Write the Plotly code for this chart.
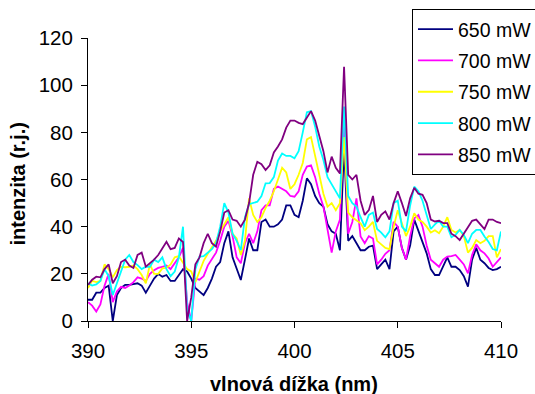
import numpy as np
import plotly.graph_objects as go

# wavelength grid (nm)
wavelength = [round(390.0 + 0.2 * i, 1) for i in range(101)]

p650 = [9, 9, 12, 12, 14, 15, 0, 11, 14, 15.3,
        15.3, 15.5, 16, 15, 12, 15, 18, 20, 18.8, 19.5,
        17, 17, 19.5, 22, 21, 18, 14, 12.5, 11, 14,
        18, 23, 25, 33, 38, 27, 22, 17.4, 26, 35,
        30, 30, 42, 43, 40, 40, 41, 43, 49, 49,
        45, 44, 51, 60.5, 58, 53, 50, 48.5, 41, 38,
        37, 30, 74, 34, 36, 33, 30, 30, 31.5, 32,
        22, 24, 26, 22, 38, 40, 31, 26, 32, 43,
        38, 33, 28.7, 22, 19.5, 19.5, 23, 27, 23, 23,
        21.6, 19, 14.6, 26, 31, 26, 24.5, 22.5, 21.6, 22,
        23]

p700 = [8, 6.5, 4, 7, 15, 20, 8, 12.5, 14.5, 14,
        15, 16.5, 18.5, 18, 17, 20, 21.5, 22.5, 23, 23.5,
        22, 24.5, 27, 31, 8, 0, 18, 17.5, 19, 23.5,
        26, 29, 34, 40, 42.5, 36, 27, 24.5, 33, 37,
        33, 38, 47, 49, 49, 56, 57, 56, 55, 53,
        52.7, 55, 62, 65.5, 66, 61, 54, 48.5, 38, 29,
        38, 43, 86, 37, 42, 52, 35.8, 33, 36, 35,
        24, 26, 28.5, 30, 42, 40, 31, 26, 36, 43.5,
        44.9, 40, 32, 26, 24.5, 23, 26, 27.3, 27.5, 28,
        26, 24, 20.2, 28, 32.5, 30, 28.7, 26.5, 23, 25,
        27]

p750 = [14, 17, 16.5, 17, 24, 22, 18.5, 21.6, 23, 22.8,
        23, 23.5, 22, 19.5, 16, 24, 20, 20, 22.3, 22.5,
        24, 27, 27.5, 24.5, 22, 21, 16.5, 21, 25.5, 28.5,
        31, 34, 38, 41, 44, 37, 35, 28, 34, 52,
        45, 42, 44, 48, 51, 55, 59.8, 65, 63, 56,
        58, 62, 67, 77, 78, 70, 61, 54, 48.5, 50,
        47, 50, 78, 46, 44, 42.5, 41.4, 38.5, 40, 42,
        34, 32.5, 31, 30.5, 40, 47, 41, 36, 40, 45.7,
        43, 42, 40, 37.5, 38.5, 37.2, 40, 44, 38.6, 37.5,
        38.6, 36, 29, 31, 34.3, 33, 34, 36, 36, 27,
        30.5]

p800 = [16, 15, 15.5, 17, 22, 19, 11, 16, 21, 26,
        28, 25, 23.7, 22, 23, 23, 26, 25, 27, 22,
        19, 21, 27, 40, 5, 0, 22, 27.3, 27.5, 29,
        30.5, 33, 40, 50, 46, 37, 34, 30, 44, 49.5,
        50, 50.6, 53, 58.4, 58.5, 61, 68, 71, 70, 70,
        69, 72, 80, 88.5, 89, 82.4, 74, 68.3, 61, 58,
        55, 52, 90.9, 53, 50, 48.5, 44, 40, 45, 46,
        39, 37.5, 35.5, 38, 50, 51, 40, 38, 49, 57,
        55, 51, 45, 39, 41, 42.5, 40, 40, 35.5, 36.5,
        38.6, 36.5, 33, 37, 38.6, 38.6, 35.8, 33.5, 30.5, 30,
        38]

p850 = [15.3, 17.5, 18.8, 18.5, 22, 24, 16, 19, 25, 26,
        23.5, 22.5, 28, 29, 23, 24.5, 26, 28, 31, 33.6,
        30.5, 31, 35, 33.5, 0, 10, 24, 27, 33, 37,
        33, 31.5, 38, 46, 47, 43, 42.5, 40, 43, 50,
        62, 67.5, 66.5, 64, 66, 71.5, 74, 77, 82, 85,
        85, 84, 83.5, 86, 89, 85, 78, 72, 63, 69.7,
        65, 62.5, 107.8, 62, 60, 62, 51, 45, 47, 53,
        42, 45, 46.5, 43, 50, 55, 50, 44.5, 52, 56.5,
        54, 53.5, 50, 43, 42.2, 42.5, 41.5, 41.5, 37, 36,
        34.3, 37, 39.5, 42.5, 43, 41, 39, 43, 43, 42,
        41.5]

series_names = ["650 mW", "700 mW", "750 mW", "800 mW", "850 mW"]
series_values = [p650, p700, p750, p800, p850]
series_colors = ["#000080", "#FF00FF", "#FFFF00", "#00FFFF", "#800080"]

x_ticks = [390, 395, 400, 405, 410]
y_ticks = [0, 20, 40, 60, 80, 100, 120]

FONT = "Liberation Sans, Arial, sans-serif"

fig = go.Figure()
for name, vals, col in zip(series_names, series_values, series_colors):
    fig.add_trace(go.Scatter(
        x=wavelength, y=vals, mode="lines", name=name, legendgroup=name,
        line=dict(color=col, width=1.8),
    ))

fig.update_layout(
    width=535, height=394,
    margin=dict(l=88, r=34, t=38, b=73, autoexpand=False),
    paper_bgcolor="white", plot_bgcolor="white",
    font=dict(family=FONT, size=20.5, color="black"),
    showlegend=True,
    legend=dict(
        x=0.7845, y=1.103, xanchor="left", yanchor="top",
        bordercolor="black", borderwidth=1, bgcolor="white",
        font=dict(family=FONT, size=19.5, color="black"),
        tracegroupgap=3, itemwidth=35,
    ),
)
fig.update_xaxes(
    range=[390, 410], tickvals=x_ticks, ticktext=[str(t) for t in x_ticks],
    showgrid=False, zeroline=False, showline=True, linecolor="black", linewidth=1,
    ticks="outside", ticklen=6, tickcolor="black", ticklabelstandoff=5,
)
fig.update_yaxes(
    range=[0, 120], tickvals=y_ticks, ticktext=[str(t) for t in y_ticks],
    showgrid=False, zeroline=False, showline=True, linecolor="black", linewidth=1,
    ticks="outside", ticklen=6, tickcolor="black", ticklabelstandoff=4,
)
fig.add_annotation(
    text="<b>intenzita (r.j.)</b>", xref="paper", yref="paper",
    x=-0.1695, y=0.486, xanchor="center", yanchor="middle", textangle=-90,
    showarrow=False, font=dict(family=FONT, size=20, color="black"),
)
fig.add_annotation(
    text="<b>vlnová dížka (nm)</b>", xref="paper", yref="paper",
    x=0.499, y=-0.2226, xanchor="center", yanchor="middle",
    showarrow=False, font=dict(family=FONT, size=20, color="black"),
)

fig.write_html("out.html")
